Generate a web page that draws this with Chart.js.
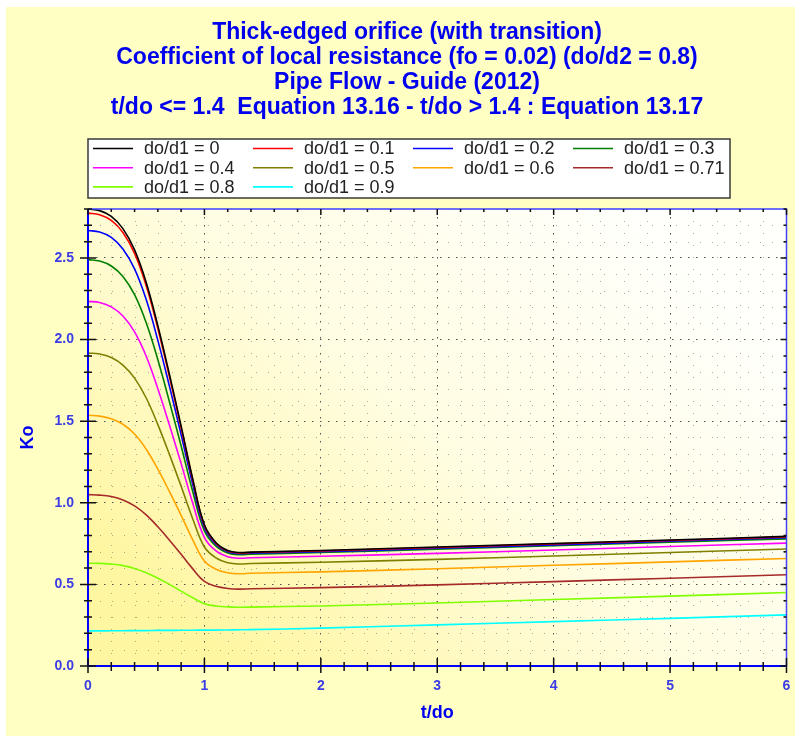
<!DOCTYPE html>
<html>
<head>
<meta charset="utf-8">
<title>Thick-edged orifice (with transition)</title>
<script src="https://cdn.jsdelivr.net/npm/chart.js@4.4.1/dist/chart.umd.min.js"></script>
<style>
  html, body { margin: 0; padding: 0; background: #fff; }
  canvas { display: block; }
</style>
</head>
<body>
<canvas id="chart" width="795" height="736"></canvas>
<script>
// t/do sample points
const xValues = [0, 0.1, 0.2, 0.3, 0.4, 0.5, 0.6, 0.7, 0.8, 0.9, 1.0, 1.1, 1.2, 1.3, 1.4, 2, 3, 4, 5, 6];

// Ko for each do/d1
const ko_0   = [2.80, 2.79, 2.755, 2.68, 2.55, 2.35, 2.085, 1.785, 1.47, 1.145, 0.865, 0.755, 0.708, 0.695, 0.698, 0.708, 0.729, 0.751, 0.772, 0.794];
const ko_01  = [2.775, 2.765, 2.73, 2.656, 2.528, 2.33, 2.068, 1.771, 1.459, 1.137, 0.86, 0.751, 0.705, 0.692, 0.695, 0.705, 0.726, 0.748, 0.769, 0.791];
const ko_02  = [2.668, 2.659, 2.626, 2.555, 2.433, 2.245, 1.995, 1.713, 1.417, 1.111, 0.848, 0.744, 0.70, 0.688, 0.691, 0.70, 0.721, 0.742, 0.764, 0.786];
const ko_03  = [2.49, 2.481, 2.451, 2.387, 2.275, 2.103, 1.876, 1.618, 1.348, 1.068, 0.828, 0.734, 0.693, 0.682, 0.685, 0.695, 0.716, 0.737, 0.758, 0.779];
const ko_04  = [2.234, 2.227, 2.20, 2.144, 2.047, 1.898, 1.699, 1.475, 1.24, 0.997, 0.787, 0.705, 0.67, 0.66, 0.663, 0.672, 0.69, 0.711, 0.732, 0.753];
const ko_05  = [1.918, 1.912, 1.89, 1.844, 1.764, 1.642, 1.479, 1.295, 1.101, 0.901, 0.729, 0.662, 0.633, 0.625, 0.628, 0.636, 0.653, 0.674, 0.695, 0.717];
const ko_06  = [1.536, 1.531, 1.515, 1.481, 1.421, 1.328, 1.206, 1.068, 0.923, 0.773, 0.643, 0.593, 0.571, 0.565, 0.568, 0.577, 0.596, 0.617, 0.638, 0.659];
const ko_071 = [1.05, 1.047, 1.038, 1.017, 0.981, 0.926, 0.853, 0.771, 0.684, 0.595, 0.518, 0.488, 0.475, 0.471, 0.473, 0.48, 0.497, 0.517, 0.538, 0.559];
const ko_08  = [0.63, 0.629, 0.624, 0.615, 0.598, 0.572, 0.538, 0.50, 0.459, 0.418, 0.382, 0.368, 0.362, 0.36, 0.361, 0.368, 0.386, 0.407, 0.428, 0.45];
const ko_09  = [0.215, 0.215, 0.216, 0.216, 0.217, 0.217, 0.218, 0.218, 0.219, 0.219, 0.22, 0.22, 0.221, 0.222, 0.223, 0.232, 0.252, 0.272, 0.292, 0.313];

const seriesLabels = ['do/d1 = 0', 'do/d1 = 0.1', 'do/d1 = 0.2', 'do/d1 = 0.3', 'do/d1 = 0.4',
  'do/d1 = 0.5', 'do/d1 = 0.6', 'do/d1 = 0.71', 'do/d1 = 0.8', 'do/d1 = 0.9'];
const seriesValues = [ko_0, ko_01, ko_02, ko_03, ko_04, ko_05, ko_06, ko_071, ko_08, ko_09];
const seriesColors = ['#000000', '#ff0000', '#0000ff', '#008000', '#ff00ff',
  '#808000', '#ffa500', '#a52a2a', '#7fff00', '#00ffff'];

const xTicks = [0, 1, 2, 3, 4, 5, 6];
const yTicks = [0, 0.5, 1.0, 1.5, 2.0, 2.5];

const titleLines = [
  'Thick-edged orifice (with transition)',
  'Coefficient of local resistance (fo = 0.02) (do/d2 = 0.8)',
  'Pipe Flow - Guide (2012)',
  't/do <= 1.4  Equation 13.16 - t/do > 1.4 : Equation 13.17'
];

const BLUE = '#0000ee';
const TICK_BLUE = '#3c3ce6';

const datasets = seriesValues.map((vals, i) => ({
  label: seriesLabels[i],
  data: xValues.map((x, j) => ({ x, y: vals[j] })),
  borderColor: seriesColors[i],
  backgroundColor: seriesColors[i],
  borderWidth: 1.6,
  pointRadius: 0,
  tension: 0.4,
  fill: false
}));

// background, plot gradient, minor grid
const backdrop = {
  id: 'backdrop',
  beforeDraw(chart) {
    const { ctx, chartArea: a } = chart;
    ctx.save();
    ctx.fillStyle = '#ffffff';
    ctx.fillRect(0, 0, chart.width, chart.height);
    ctx.fillStyle = '#ffffc4';
    ctx.fillRect(6, 7, chart.width - 6, chart.height - 7);
    const g = ctx.createLinearGradient(a.right - 150, a.top, a.left + 150, a.bottom);
    g.addColorStop(0, '#fffffc');
    g.addColorStop(0.5, '#fffde2');
    g.addColorStop(1, '#fff6a2');
    ctx.fillStyle = g;
    ctx.fillRect(a.left, a.top, a.width, a.height);
    ctx.restore();
  },
  beforeDatasetsDraw(chart) {
    const { ctx, chartArea: a, scales: { x, y } } = chart;
    ctx.save();
    ctx.strokeStyle = 'rgba(90,90,90,0.5)';
    ctx.lineWidth = 1;
    ctx.setLineDash([1, 11]);
    for (let i = 1; i < 30; i++) {
      if (i % 5 === 0) continue;
      const px = Math.round(x.getPixelForValue(i * 0.2)) + 0.5;
      ctx.beginPath(); ctx.moveTo(px, a.top); ctx.lineTo(px, a.bottom); ctx.stroke();
    }
    for (let i = 1; i < 28; i++) {
      if (i % 5 === 0) continue;
      const py = Math.round(y.getPixelForValue(i * 0.1)) + 0.5;
      ctx.beginPath(); ctx.moveTo(a.left, py); ctx.lineTo(a.right, py); ctx.stroke();
    }
    ctx.restore();
  }
};

// axes frame, tick marks, titles, legend
const decorations = {
  id: 'decorations',
  afterDraw(chart) {
    const { ctx, chartArea: a, scales: { x, y } } = chart;
    ctx.save();

    // frame
    ctx.strokeStyle = '#4040ff';
    ctx.lineWidth = 1.5;
    ctx.beginPath();
    ctx.moveTo(a.left, a.top); ctx.lineTo(a.right, a.top); ctx.lineTo(a.right, a.bottom);
    ctx.stroke();
    ctx.strokeStyle = '#0000ff';
    ctx.lineWidth = 2;
    ctx.beginPath();
    ctx.moveTo(a.left, a.top); ctx.lineTo(a.left, a.bottom); ctx.lineTo(a.right, a.bottom);
    ctx.stroke();

    // tick marks
    ctx.strokeStyle = '#111';
    ctx.lineWidth = 1.5;
    for (let i = 0; i <= 30; i++) {
      const px = x.getPixelForValue(i * 0.2);
      const major = i % 5 === 0;
      ctx.beginPath();
      ctx.moveTo(px, a.bottom - (major ? 8 : 4));
      ctx.lineTo(px, a.bottom + (major ? 7 : 5));
      ctx.moveTo(px, a.top);
      ctx.lineTo(px, a.top + (major ? 6 : 3));
      ctx.stroke();
    }
    for (let i = 0; i <= 28; i++) {
      const py = y.getPixelForValue(i * 0.1);
      const major = i % 5 === 0;
      ctx.beginPath();
      ctx.moveTo(a.left - (major ? 8 : 4), py);
      ctx.lineTo(a.left + (major ? 8 : 4), py);
      ctx.moveTo(a.right, py);
      ctx.lineTo(a.right - (major ? 6 : 3), py);
      ctx.stroke();
    }

    // titles
    ctx.fillStyle = BLUE;
    ctx.textAlign = 'center';
    ctx.textBaseline = 'middle';
    ctx.font = 'bold 23px "Liberation Sans", Arial, sans-serif';
    titleLines.forEach((t, i) => ctx.fillText(t, 407, 33 + i * 25));

    ctx.font = 'bold 18px "Liberation Sans", Arial, sans-serif';
    ctx.fillText('t/do', (a.left + a.right) / 2, 713);
    ctx.save();
    ctx.translate(28, (a.top + a.bottom) / 2);
    ctx.rotate(-Math.PI / 2);
    ctx.fillText('Ko', 0, 0);
    ctx.restore();

    // legend
    const lx = 88, ly = 139, lw = 642, lh = 59;
    ctx.fillStyle = '#ffffff';
    ctx.fillRect(lx, ly, lw, lh);
    ctx.strokeStyle = '#3a3a3a';
    ctx.lineWidth = 1.5;
    ctx.strokeRect(lx, ly, lw, lh);
    ctx.font = '18px "Liberation Sans", Arial, sans-serif';
    ctx.textAlign = 'left';
    chart.data.datasets.forEach((ds, i) => {
      const col = i % 4, row = Math.floor(i / 4);
      const cx = lx + 5 + col * 160;
      const cy = ly + 9.5 + row * 19.2;
      ctx.strokeStyle = ds.borderColor;
      ctx.lineWidth = 1.6;
      ctx.beginPath(); ctx.moveTo(cx, cy); ctx.lineTo(cx + 40, cy); ctx.stroke();
      ctx.fillStyle = '#222';
      ctx.fillText(ds.label, cx + 51, cy + 1);
    });
    ctx.restore();
  }
};

new Chart(document.getElementById('chart'), {
  type: 'line',
  data: { datasets },
  options: {
    responsive: false,
    animation: false,
    devicePixelRatio: 1,
    layout: { padding: { top: 209, right: 8.5, bottom: 0, left: 0 } },
    plugins: {
      legend: { display: false },
      title: { display: false },
      tooltip: { enabled: false }
    },
    scales: {
      x: {
        type: 'linear',
        min: 0,
        max: 6,
        afterFit: (s) => { s.height = 70; },
        afterBuildTicks: (s) => { s.ticks = xTicks.map(v => ({ value: v })); },
        ticks: {
          color: TICK_BLUE,
          padding: 0,
          maxRotation: 0,
          font: { family: '"Liberation Sans", Arial, sans-serif', size: 14, weight: 'bold' },
          callback: (v) => String(v)
        },
        grid: { color: '#505050', lineWidth: 1, drawTicks: true, tickLength: 12, tickColor: 'rgba(0,0,0,0)' },
        border: { display: false, dash: [1.5, 6.5] }
      },
      y: {
        type: 'linear',
        min: 0,
        max: 2.8,
        afterFit: (s) => { s.width = 88; },
        afterBuildTicks: (s) => { s.ticks = yTicks.map(v => ({ value: v })); },
        ticks: {
          color: TICK_BLUE,
          padding: 14,
          font: { family: '"Liberation Sans", Arial, sans-serif', size: 14, weight: 'bold' },
          callback: (v) => Number(v).toFixed(1)
        },
        grid: { color: '#505050', lineWidth: 1, drawTicks: false },
        border: { display: false, dash: [1.5, 6.5] }
      }
    }
  },
  plugins: [backdrop, decorations]
});
</script>
</body>
</html>
